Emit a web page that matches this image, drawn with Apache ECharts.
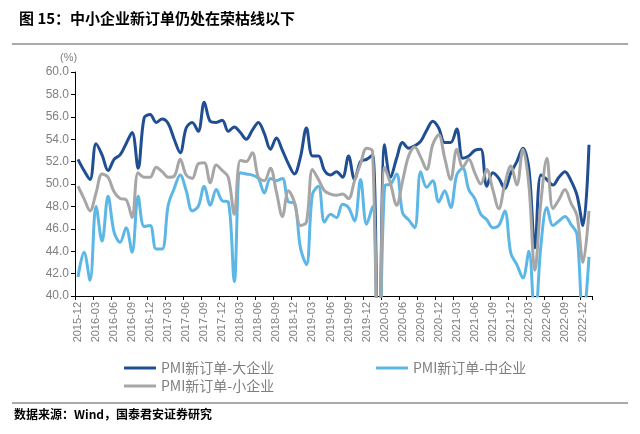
<!DOCTYPE html>
<html>
<head>
<meta charset="utf-8">
<script src="https://cdn.jsdelivr.net/npm/echarts@6/dist/echarts.min.js"></script>
<style>
  html, body { margin: 0; padding: 0; background: #fff; }
  #chart { width: 640px; height: 434px; }
</style>
</head>
<body>
<div id="chart"></div>
<script>
// 月份（2015-12 至 2023-01）
var months = [
  "2015-12",
  "2016-01", "2016-02", "2016-03", "2016-04", "2016-05", "2016-06", "2016-07", "2016-08", "2016-09", "2016-10", "2016-11", "2016-12",
  "2017-01", "2017-02", "2017-03", "2017-04", "2017-05", "2017-06", "2017-07", "2017-08", "2017-09", "2017-10", "2017-11", "2017-12",
  "2018-01", "2018-02", "2018-03", "2018-04", "2018-05", "2018-06", "2018-07", "2018-08", "2018-09", "2018-10", "2018-11", "2018-12",
  "2019-01", "2019-02", "2019-03", "2019-04", "2019-05", "2019-06", "2019-07", "2019-08", "2019-09", "2019-10", "2019-11", "2019-12",
  "2020-01", "2020-02", "2020-03", "2020-04", "2020-05", "2020-06", "2020-07", "2020-08", "2020-09", "2020-10", "2020-11", "2020-12",
  "2021-01", "2021-02", "2021-03", "2021-04", "2021-05", "2021-06", "2021-07", "2021-08", "2021-09", "2021-10", "2021-11", "2021-12",
  "2022-01", "2022-02", "2022-03", "2022-04", "2022-05", "2022-06", "2022-07", "2022-08", "2022-09", "2022-10", "2022-11", "2022-12",
  "2023-01"
];

// PMI新订单-大企业
var largeOrders = [
  52.2,
  51.2, 50.4, 53.6, 52.6, 51.2, 52.2, 52.6, 53.6, 54.6, 51.4, 55.9, 56.2,
  55.5, 55.8, 55.4, 54.0, 52.8, 55.0, 55.5, 54.7, 57.3, 55.6, 55.5, 55.7,
  54.7, 55.1, 54.6, 54.0, 54.8, 55.5, 54.5, 53.1, 54.1, 53.0, 51.8, 50.9,
  52.4, 55.0, 52.5, 52.5, 51.2, 50.8, 51.1, 50.6, 52.5, 50.4, 52.0, 52.2,
  52.6, 29.5, 53.5, 50.6, 52.3, 53.7, 53.2, 53.4, 53.8, 54.8, 55.6, 55.0,
  53.7, 53.7, 54.9, 52.3, 52.5, 53.0, 53.1, 49.8, 51.0, 50.5, 49.6, 51.0,
  52.0, 53.2, 51.4, 44.3, 50.8, 50.4, 49.9, 50.6, 51.1, 50.3, 49.0, 46.3,
  53.5
];

// PMI新订单-中企业
var mediumOrders = [
  41.7,
  43.9, 41.4, 48.0, 44.9, 48.9, 45.7, 44.8, 46.1, 43.9, 48.9, 46.2, 46.3,
  44.2, 44.2, 48.1, 49.6, 50.8, 49.4, 47.6, 48.0, 49.8, 48.1, 49.5, 48.5,
  48.4, 41.3, 51.0, 50.9, 50.8, 50.5, 49.2, 50.5, 50.3, 50.5, 48.4, 48.3,
  44.3, 42.8, 49.1, 49.8, 46.6, 47.3, 47.0, 48.2, 47.9, 46.7, 50.4, 46.4,
  48.0, 32.0, 49.8, 50.0, 50.9, 47.4, 46.8, 46.1, 51.1, 49.7, 50.3, 48.4,
  49.4, 47.9, 50.8, 51.4, 49.5, 48.7, 47.3, 46.8, 46.1, 46.3, 47.6, 43.8,
  42.8, 41.6, 44.0, 37.5, 44.5, 47.9, 46.3, 46.7, 47.1, 46.4, 45.5, 37.5,
  43.5
];

// PMI新订单-小企业
var smallOrders = [
  49.8,
  48.7, 47.6, 49.2, 50.9, 50.6, 49.3, 48.7, 48.6, 47.0, 51.0, 50.6, 50.6,
  51.5, 51.1, 50.6, 50.7, 52.2, 50.8, 50.5, 51.8, 51.9, 50.1, 51.7, 51.2,
  50.6, 47.3, 52.1, 52.0, 52.8, 50.6, 50.3, 51.4, 49.3, 47.1, 49.4, 48.4,
  46.3, 46.6, 51.3, 50.4, 49.4, 49.1, 49.0, 49.1, 48.7, 50.3, 51.8, 53.2,
  52.9, 29.0, 51.5, 50.0, 48.1, 50.3, 52.5, 53.3, 52.4, 51.3, 53.5, 54.4,
  52.3, 50.4, 53.1, 51.5, 52.2, 51.0, 50.0, 51.3, 49.5, 47.8, 50.0, 51.6,
  49.9, 53.1, 49.9, 42.3, 48.4, 52.3, 47.8, 48.6, 49.5, 48.3, 47.2, 43.0,
  47.6
];

var seriesNames = ["PMI新订单-大企业", "PMI新订单-中企业", "PMI新订单-小企业"];
var seriesColors = ["#1f4e93", "#5cb7e6", "#a6a6a6"];

var myChart = echarts.init(document.getElementById("chart"));

function makeLine(name, data, color) {
  return {
    name: name,
    type: "line",
    data: data,
    smooth: 0.35,
    showSymbol: false,
    symbol: "none",
    clip: true,
    lineStyle: { width: 3, color: color },
    itemStyle: { color: color }
  };
}

var legendText = { fontSize: 14, color: "#7f7f7f", fontFamily: "Noto Sans CJK SC" };

myChart.setOption({
  animation: false,
  title: {
    text: "图 15：中小企业新订单仍处在荣枯线以下",
    left: 14,
    top: 6,
    textStyle: {
      fontSize: 15,
      fontWeight: "bold",
      color: "#000",
      fontFamily: "Noto Sans CJK SC"
    }
  },
  graphic: [
    {
      type: "line",
      shape: { x1: 12, y1: 44, x2: 628, y2: 44 },
      style: { stroke: "#555", lineWidth: 1 }
    },
    {
      type: "line",
      shape: { x1: 12, y1: 403, x2: 628, y2: 403 },
      style: { stroke: "#555", lineWidth: 1 }
    },
    {
      type: "text",
      left: 14,
      top: 408,
      style: {
        text: "数据来源：Wind，国泰君安证券研究",
        fontSize: 12,
        fontWeight: "bold",
        fill: "#000",
        fontFamily: "Noto Sans CJK SC"
      }
    },
    {
      type: "text",
      left: 60,
      top: 52,
      style: { text: "(%)", fontSize: 11, fill: "#7f7f7f" }
    }
  ],
  legend: [
    {
      data: [seriesNames[0]],
      left: 119,
      top: 356,
      icon: "rect",
      itemWidth: 32,
      itemHeight: 3,
      itemGap: 4,
      textStyle: legendText
    },
    {
      data: [seriesNames[1]],
      left: 371,
      top: 356,
      icon: "rect",
      itemWidth: 32,
      itemHeight: 3,
      textStyle: legendText
    },
    {
      data: [seriesNames[2]],
      left: 119,
      top: 374,
      icon: "rect",
      itemWidth: 32,
      itemHeight: 3,
      textStyle: legendText
    }
  ],
  grid: {
    left: 75,
    right: 48,
    top: 72,
    bottom: 138,
    containLabel: false
  },
  xAxis: {
    type: "category",
    data: months,
    boundaryGap: true,
    axisLine: { show: true, lineStyle: { color: "#000", width: 1 } },
    axisTick: { show: true, interval: 2, length: 4, lineStyle: { color: "#000" } },
    axisLabel: {
      interval: 2,
      rotate: 90,
      fontSize: 11,
      color: "#7f7f7f",
      margin: 6
    }
  },
  yAxis: {
    type: "value",
    min: 40,
    max: 60,
    interval: 2,
    splitLine: { show: false },
    axisLine: { show: true, lineStyle: { color: "#000", width: 1 } },
    axisTick: { show: true, length: 4, lineStyle: { color: "#000" } },
    axisLabel: {
      fontSize: 12,
      color: "#7f7f7f",
      margin: 6,
      formatter: function (v) {
        return v.toFixed(1);
      }
    }
  },
  series: [
    makeLine(seriesNames[0], largeOrders, seriesColors[0]),
    makeLine(seriesNames[1], mediumOrders, seriesColors[1]),
    makeLine(seriesNames[2], smallOrders, seriesColors[2])
  ]
});
</script>
</body>
</html>
